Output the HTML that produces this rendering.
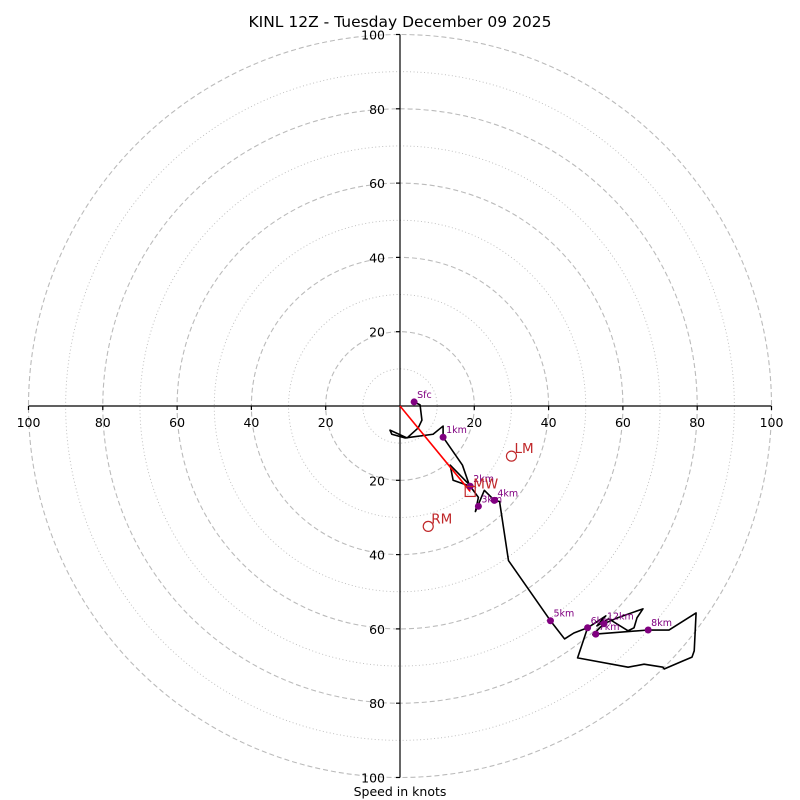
<!DOCTYPE html>
<html><head><meta charset="utf-8"><style>
body{margin:0;background:#fff}
svg{display:block;font-family:"DejaVu Sans","Liberation Sans",sans-serif}
</style></head><body>
<svg id="c" width="800" height="800" xmlns="http://www.w3.org/2000/svg">
<text x="400" y="27" text-anchor="middle" font-size="15.5">KINL 12Z - Tuesday December 09 2025</text>
<text x="400" y="796" text-anchor="middle" font-size="12.5">Speed in knots</text>
</svg>
<script>
const uVals=[3.8,5.4,5.9,4.9,1.9,-2.7,-2.2,1.4,8.9,11.6,11.6,16.8,18.6,13.5,14.3,18.9,21.1,20.3,22.7,25.4,26.8,29.2,40.5,44.3,46.8,50.5,55.4,53,56.2,61.4,63,63.8,65.4,58.6,54.9,51.9,52.7,66.8,72.4,79.7,79.2,78.6,76.2,71.1,70.8,65.7,61.4,47.8,50.5];
const vVals=[1.1,0.3,-3.8,-5.9,-8.6,-6.5,-7.6,-8.6,-7.6,-5.4,-8.4,-15.9,-21.1,-15.9,-20,-21.6,-24.6,-28.4,-22.7,-25.4,-25.7,-41.6,-57.8,-62.7,-61.1,-59.7,-56.5,-59.2,-57.3,-60.5,-59.7,-57,-54.6,-57,-58.6,-61.6,-61.4,-60.3,-60.3,-55.7,-65.9,-67.6,-68.6,-70.8,-70.3,-69.5,-70.3,-67.8,-59.7];
const markerLabels=["Sfc","1km","2km","3km","4km","5km","6km","7km","8km","12km"];
const markerU=[3.8,11.6,18.9,21.1,25.4,40.5,50.5,52.7,66.8,54.9];
const markerV=[1.1,-8.4,-21.6,-27.0,-25.4,-57.8,-59.7,-61.4,-60.3,-58.6];
const ringVals=[10,20,30,40,50,60,70,80,90,100];
const tickVals=[20,40,60,80,100];
const motionNames=["LM","RM"];
const motionU=[30,7.6];
const motionV=[-13.5,-32.4];
const meanWind=[18.9,-23];

const NS="http://www.w3.org/2000/svg";
const svg=document.getElementById('c');
const cx=400,cy=406,R=371.5,MAXV=100;
const sx=u=>cx+u*R/MAXV, sy=v=>cy-v*R/MAXV, sr=k=>k*R/MAXV;
function mk(t,a,p){const e=document.createElementNS(NS,t);for(const k in a)e.setAttribute(k,a[k]);(p||svg).appendChild(e);return e;}
ringVals.forEach(r=>{
  const c=mk('circle',{cx:cx,cy:cy,r:sr(r),fill:'none',stroke:'#bbb','stroke-width':r%20===0?1.1:0.9,'stroke-dasharray':r%20===0?'5,3':'1,2.5'});
  
  
});
const ax=mk('g',{stroke:'#000','stroke-width':1.2});


mk('line',{x1:sx(-100),y1:cy,x2:sx(100),y2:cy},ax);
mk('line',{x1:cx,y1:sy(100),x2:cx,y2:sy(-100)},ax);
tickVals.forEach(t=>{
  [-1,1].forEach(s=>{
    mk('line',{x1:sx(s*t),y1:cy,x2:sx(s*t),y2:cy+4},ax);
    mk('line',{x1:cx,y1:sy(s*t),x2:cx-4,y2:sy(s*t)},ax);
    const tx=mk('text',{x:sx(s*t),y:cy+21,'text-anchor':'middle','font-size':12.5});
    tx.textContent=t;
    
    
    const ty=mk('text',{x:cx-15,y:sy(s*t)+5,'text-anchor':'end','font-size':12.5});
    ty.textContent=t;
    
    
  });
});
const pts=uVals.map((u,i)=>sx(u)+','+sy(vVals[i])).join(' ');
const hl=mk('polyline',{points:pts,fill:'none',stroke:'#000','stroke-width':1.6,'stroke-linejoin':'round'});


const sh=mk('line',{x1:cx,y1:cy,x2:sx(meanWind[0]),y2:sy(meanWind[1]),stroke:'red','stroke-width':1.6});


markerLabels.forEach((l,i)=>{
  const m=mk('circle',{cx:sx(markerU[i]),cy:sy(markerV[i]),r:3.5,fill:'purple'});
  
  
  const t=mk('text',{x:sx(markerU[i])+3,y:sy(markerV[i])-4,'font-size':9.5,fill:'purple'});
  t.textContent=l;
  
  
});
const mw=mk('rect',{x:sx(meanWind[0])-5,y:sy(meanWind[1])-5,width:10,height:10,fill:'none',stroke:'#c0282a','stroke-width':1.2});


const mwt=mk('text',{x:sx(meanWind[0])+3,y:sy(meanWind[1])-3,'font-size':13.5,fill:'#c0282a'});
mwt.textContent='MW';


motionNames.forEach((n,i)=>{
  const c=mk('circle',{cx:sx(motionU[i]),cy:sy(motionV[i]),r:5,fill:'none',stroke:'#c0282a','stroke-width':1.2});
  
  
  const t=mk('text',{x:sx(motionU[i])+3,y:sy(motionV[i])-3,'font-size':13.5,fill:'#c0282a'});
  t.textContent=n;
  
  
});
</script>
</body></html>
